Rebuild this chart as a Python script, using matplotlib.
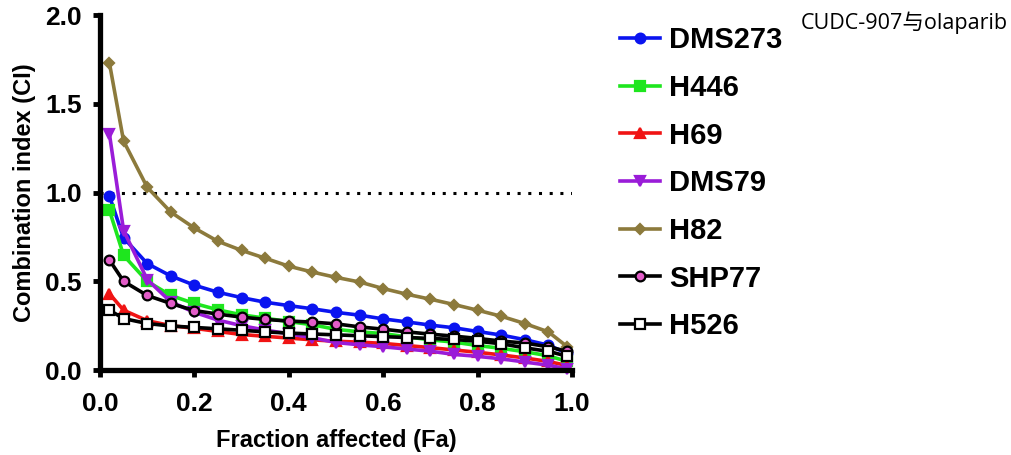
import matplotlib
matplotlib.use("Agg")
import matplotlib.pyplot as plt

plt.rcParams['font.family'] = ['Liberation Sans', 'DejaVu Sans']

# Fa 值（横轴）
fa = [0.02, 0.05, 0.10, 0.15, 0.20, 0.25, 0.30, 0.35, 0.40, 0.45, 0.50,
      0.55, 0.60, 0.65, 0.70, 0.75, 0.80, 0.85, 0.90, 0.95, 0.99]

# 各细胞系的 CI 值
dms273 = [0.98, 0.745, 0.60, 0.53, 0.478, 0.438, 0.408, 0.382, 0.363, 0.345, 0.325,
          0.309, 0.288, 0.271, 0.253, 0.238, 0.217, 0.197, 0.171, 0.140, 0.094]
h446 = [0.90, 0.646, 0.50, 0.42, 0.375, 0.339, 0.311, 0.292, 0.273, 0.255, 0.229,
        0.215, 0.205, 0.187, 0.170, 0.157, 0.138, 0.122, 0.103, 0.080, 0.048]
h69 = [0.43, 0.337, 0.278, 0.25, 0.235, 0.217, 0.20, 0.19, 0.18, 0.17, 0.162,
       0.157, 0.15, 0.138, 0.126, 0.113, 0.10, 0.085, 0.068, 0.048, 0.025]
dms79 = [1.33, 0.786, 0.51, 0.384, 0.325, 0.281, 0.25, 0.225, 0.204, 0.182, 0.155,
         0.142, 0.131, 0.118, 0.106, 0.088, 0.077, 0.063, 0.045, 0.027, 0.006]
h82 = [1.73, 1.29, 1.03, 0.89, 0.80, 0.725, 0.674, 0.63, 0.585, 0.552, 0.522,
       0.496, 0.459, 0.427, 0.399, 0.369, 0.337, 0.303, 0.262, 0.215, 0.131]
shp77 = [0.62, 0.50, 0.42, 0.375, 0.335, 0.315, 0.298, 0.285, 0.276, 0.27, 0.26,
         0.243, 0.23, 0.215, 0.202, 0.191, 0.178, 0.163, 0.152, 0.131, 0.105]
h526 = [0.337, 0.29, 0.262, 0.248, 0.24, 0.232, 0.224, 0.215, 0.208, 0.203, 0.198,
        0.193, 0.188, 0.183, 0.178, 0.172, 0.162, 0.148, 0.125, 0.105, 0.078]

labels = ['DMS273', 'H446', 'H69', 'DMS79', 'H82', 'SHP77', 'H526']
xticks = [0.0, 0.2, 0.4, 0.6, 0.8, 1.0]
yticks = [0.0, 0.5, 1.0, 1.5, 2.0]

fig = plt.figure(figsize=(10.12, 4.55), dpi=100)
ax = fig.add_axes([0.0988, 0.1868, 0.4664, 0.780])

# 线条样式：颜色、标记、标记填充、大小
styles = [
    ('#0a14f0', 'o', '#0a14f0', 7),
    ('#1ee61e', 's', '#1ee61e', 6.5),
    ('#f01414', '^', '#f01414', 7),
    ('#9a1cd8', 'v', '#9a1cd8', 7),
    ('#8c7a3c', 'D', '#8c7a3c', 5.5),
    ('black', 'o', '#e25cc8', 7),
    ('black', 's', 'white', 6.5),
]
series = [dms273, h446, h69, dms79, h82, shp77, h526]

# 参考线 CI = 1
ax.plot([0, 1], [1, 1], color='black', linestyle=(0, (1, 2.5)), linewidth=2.2)

for ys, lab, (c, m, fc, ms) in zip(series, labels, styles):
    ax.plot(fa, ys, color=c, marker=m, markerfacecolor=fc, markeredgecolor=c,
            markeredgewidth=1.6, markersize=ms, linewidth=2.6, label=lab,
            clip_on=False)

ax.set_xlim(0, 1)
ax.set_ylim(0, 2)
ax.set_xticks(xticks)
ax.set_yticks(yticks)
ax.set_xticklabels([f'{v:.1f}' for v in xticks], fontsize=19, fontweight='bold')
ax.set_yticklabels([f'{v:.1f}' for v in yticks], fontsize=19, fontweight='bold')
ax.set_xlabel('Fraction affected (Fa)', fontsize=17, fontweight='bold', labelpad=9)
ax.set_ylabel('Combination index (CI)', fontsize=17, fontweight='bold', labelpad=7)

for s in ['top', 'right']:
    ax.spines[s].set_visible(False)
for s in ['left', 'bottom']:
    ax.spines[s].set_linewidth(3.8)
ax.tick_params(direction='out', length=5, width=3.5)
ax.tick_params(axis='x', pad=11)
ax.tick_params(axis='y', pad=8)

handles, labs = ax.get_legend_handles_labels()
fig.legend(handles, labs, loc='upper left', bbox_to_anchor=(0.587, 1.0),
           frameon=False, prop={'weight': 'bold', 'size': 21},
           handlelength=1.37, handletextpad=0.3, labelspacing=0.675)

fig.text(0.996, 0.975, 'CUDC-907与olaparib', ha='right', va='top', fontsize=15.5,
         family=['Open Sans', 'Noto Sans CJK SC', 'DejaVu Sans'])

fig.savefig('out.png', dpi=100)
